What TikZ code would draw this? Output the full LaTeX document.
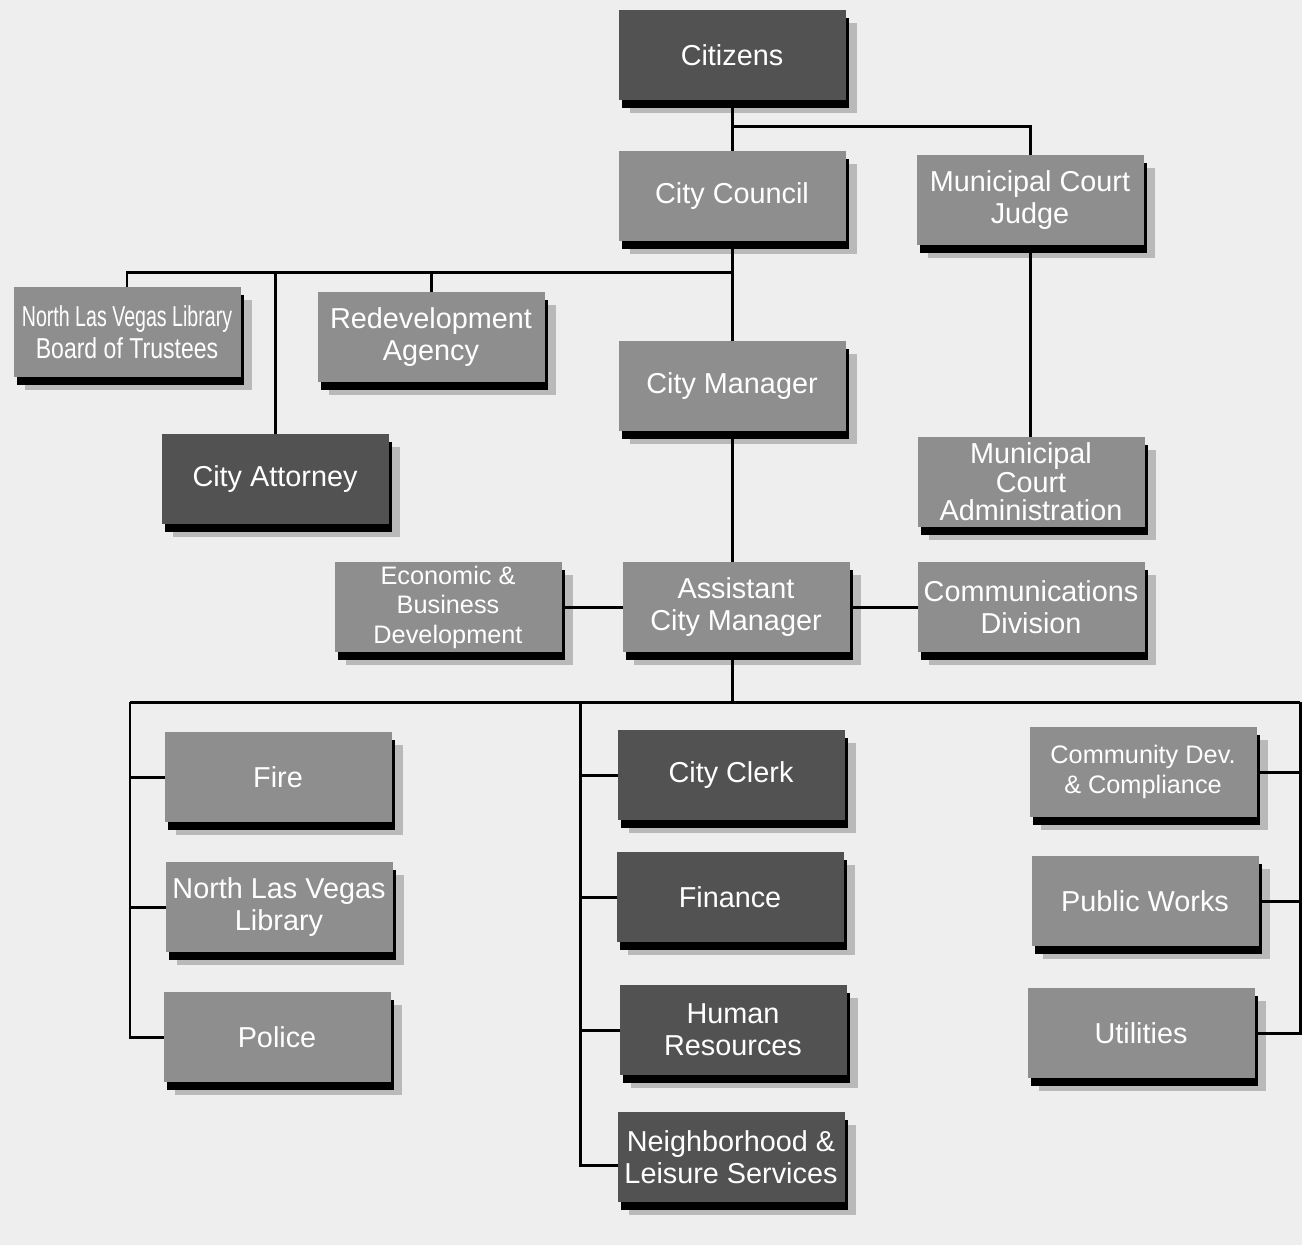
\documentclass[tikz,border=0pt]{standalone}
\usepackage{fontspec}
\setmainfont{Liberation Sans}
\usetikzlibrary{shadows}
\definecolor{unitdark}{RGB}{82,82,82}
\definecolor{unitmid}{RGB}{142,142,142}
\definecolor{paper}{RGB}{238,238,238}
\begin{document}
\begin{tikzpicture}[
    x = 0.1mm,
    y = -0.1mm,
    dept/.style = {rectangle, minimum width=22.7mm, minimum height=9mm,
    inner sep=0pt, outer sep=0pt, align=center, text=white,
    font=\fontsize{8.2}{9}\selectfont,
    drop shadow={shadow xshift=1.1mm, shadow yshift=-1.3mm, fill=black, opacity=0.22},
    general shadow={shadow xshift=0.3mm, shadow yshift=-0.8mm, fill=black}},
    lead/.style = {dept, fill=unitdark},
    staff/.style = {dept, fill=unitmid},
    small/.style = {font=\fontsize{7.2}{8.4}\selectfont},
    tight/.style = {font=\fontsize{8.2}{8.1}\selectfont},
    link/.style = {line width=0.85pt, black},
]

\fill[paper] (0,0) rectangle (1302,1245);
\useasboundingbox (0,0) rectangle (1302,1245);

\node[lead] (citizens) at (732,55) {Citizens};
    \node[staff] (city_council) at (732,196) {City Council};
    \node[staff] (court_judge) at (1030,200) {Municipal Court\\Judge};
    \node[staff] (library_board) at (127,332) {\scalebox{0.68}[1]{North Las Vegas Library}\\\scalebox{0.8}[1]{Board of Trustees}};
    \node[staff] (redevelopment) at (431,337) {Redevelopment\\Agency};
    \node[staff] (city_manager) at (732,386) {City Manager};
    \node[lead] (city_attorney) at (275,479) {City Attorney};
    \node[staff, tight] (court_admin) at (1031,482) {Municipal\\Court\\Administration};
    \node[staff, small] (econ_dev) at (448,607) {Economic \&\\Business\\Development};
    \node[staff] (asst_manager) at (736,607) {Assistant\\City Manager};
    \node[staff] (communications) at (1031,607) {Communications\\Division};

\node[staff] (fire) at (278,777) {Fire};
    \node[staff] (nlv_library) at (279,907) {North Las Vegas\\Library};
    \node[staff] (police) at (277,1037) {Police};
    \node[lead] (city_clerk) at (731,775) {City Clerk};
    \node[lead] (finance) at (730,897) {Finance};
    \node[lead] (human_res) at (733,1030) {Human\\Resources};
    \node[lead] (neighborhood) at (731,1157) {Neighborhood \&\\Leisure Services};
    \node[staff, small] (community_dev) at (1143,772) {Community Dev.\\\& Compliance};
    \node[staff] (public_works) at (1145,901) {Public Works};
    \node[staff] (utilities) at (1141,1033) {Utilities};

\coordinate (top_split) at (732,126);
\coordinate (council_split) at (732,272);
\coordinate (left_bus) at (130,702);
\coordinate (mid_bus) at (580,702);
\coordinate (right_bus) at (1300,702);

\draw [link] (citizens.south) -- (city_council.north);
\draw [link] (top_split) -| (court_judge.north);
\draw [link] (city_council.south) -- (city_manager.north);
\draw [link] (library_board.north) |- (council_split);
\draw [link] (city_attorney.north) |- (council_split);
\draw [link] (redevelopment.north) |- (council_split);
\draw [link] (court_judge.south) -- (court_judge.south |- court_admin.north);
\draw [link] (city_manager.south) -- (city_manager.south |- asst_manager.north);
\draw [link] (econ_dev.east) -- (asst_manager.west);
\draw [link] (asst_manager.east) -- (communications.west);
\draw [link] (city_manager.south |- asst_manager.south) |- (left_bus);
\draw [link] (city_manager.south |- asst_manager.south) |- (right_bus);

\draw [link] (left_bus) |- (fire.west);
\draw [link] (left_bus) |- (nlv_library.west);
\draw [link] (left_bus) |- (police.west);
\draw [link] (mid_bus) |- (city_clerk.west);
\draw [link] (mid_bus) |- (finance.west);
\draw [link] (mid_bus) |- (human_res.west);
\draw [link] (mid_bus) |- ([yshift=-0.8mm]neighborhood.west);
\draw [link] (right_bus) |- (community_dev.east);
\draw [link] (right_bus) |- (public_works.east);
\draw [link] (right_bus) |- (utilities.east);

\end{tikzpicture}
\end{document}
